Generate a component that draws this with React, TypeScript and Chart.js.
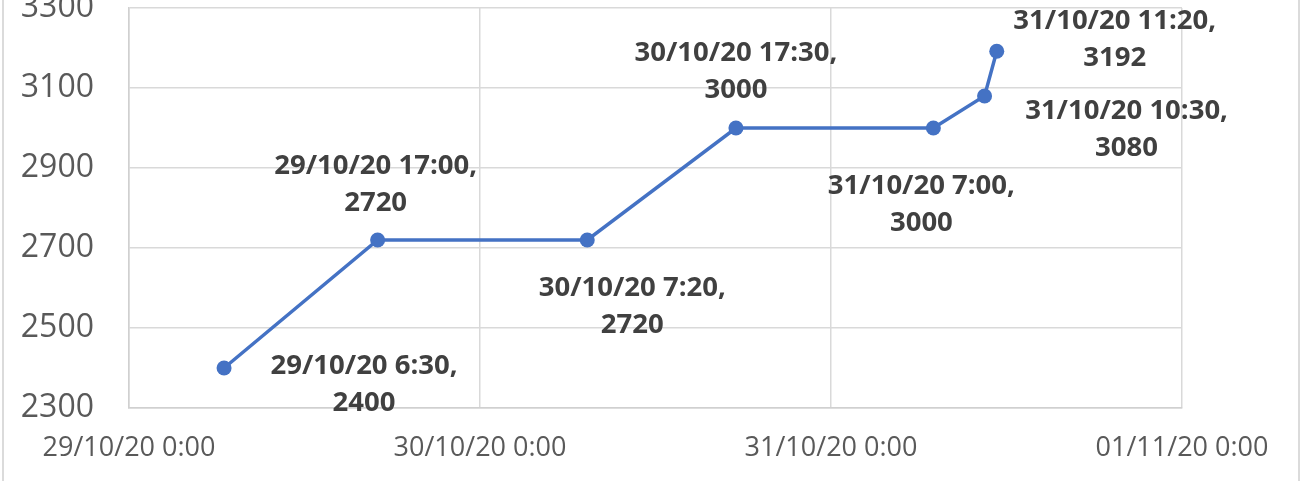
import React, { useEffect, useRef } from "react";
import { Chart, registerables } from "chart.js";

Chart.register(...registerables);

// ---- Data ----
const pointTimes = [
  "29/10/20 6:30",
  "29/10/20 17:00",
  "30/10/20 7:20",
  "30/10/20 17:30",
  "31/10/20 7:00",
  "31/10/20 10:30",
  "31/10/20 11:20",
];
const pointValues = [2400, 2720, 2720, 3000, 3000, 3080, 3192];
const xTickLabels = ["29/10/20 0:00", "30/10/20 0:00", "31/10/20 0:00", "01/11/20 0:00"];
const yMin = 2300;
const yMax = 3300;
const yStep = 200;

// label placement (offset of first text line centre from the point, px)
const labelOffsets: [number, number][] = [
  [140, -2],
  [-2, -74],
  [45, 48],
  [0, -75],
  [-12, 58],
  [142, 15],
  [118, -30],
];

function parseStamp(s: string): number {
  const [d, t] = s.split(" ");
  const [dd, mm, yy] = d.split("/").map(Number);
  const [h, mi] = t.split(":").map(Number);
  return Date.UTC(2000 + yy, mm - 1, dd, h, mi);
}
const origin = parseStamp(xTickLabels[0]);
const toHours = (s: string) => (parseStamp(s) - origin) / 3600000;
const xTickHours = xTickLabels.map(toHours);

const FONT = "'Open Sans', 'Noto Sans', sans-serif";

const labelPlugin = {
  id: "pointLabels",
  afterDatasetsDraw(chart: any) {
    const meta = chart.getDatasetMeta(0);
    const ctx = chart.ctx;
    ctx.save();
    ctx.font = `bold 27.5px ${FONT}`;
    ctx.fillStyle = "#404040";
    ctx.textAlign = "center";
    ctx.textBaseline = "middle";
    meta.data.forEach((el: any, i: number) => {
      const [dx, dy] = labelOffsets[i];
      const x = el.x + dx;
      const y = el.y + dy;
      ctx.fillText(`${pointTimes[i]},`, x, y);
      ctx.fillText(`${pointValues[i]}`, x, y + 37);
    });
    ctx.restore();
  },
};

const framePlugin = {
  id: "outerFrame",
  afterDraw(chart: any) {
    const ctx = chart.ctx;
    ctx.save();
    ctx.strokeStyle = "#d0d0d0";
    ctx.lineWidth = 1.5;
    ctx.beginPath();
    ctx.moveTo(3, 0);
    ctx.lineTo(3, chart.height);
    ctx.moveTo(1299, 0);
    ctx.lineTo(1299, chart.height);
    ctx.stroke();
    ctx.restore();
  },
};

export default function App() {
  const ref = useRef<HTMLCanvasElement | null>(null);
  useEffect(() => {
    document.body.style.margin = "0";
    const canvas = ref.current;
    if (!canvas) return;
    const chart = new Chart(canvas, {
      type: "line",
      data: {
        datasets: [
          {
            data: pointTimes.map((t, i) => ({ x: toHours(t), y: pointValues[i] })),
            borderColor: "#4472c4",
            backgroundColor: "#4472c4",
            borderWidth: 3.5,
            pointRadius: 7.5,
            pointBackgroundColor: "#4472c4",
            pointBorderColor: "#4472c4",
            pointBorderWidth: 0,
            tension: 0,
          },
        ],
      },
      options: {
        responsive: false,
        animation: false,
        events: [],
        layout: { padding: { left: 0, top: 8, right: 120, bottom: 0 } },
        plugins: { legend: { display: false }, tooltip: { enabled: false } },
        scales: {
          x: {
            type: "linear",
            min: xTickHours[0],
            max: xTickHours[xTickHours.length - 1],
            afterBuildTicks: (scale: any) => {
              scale.ticks = xTickHours.map((v) => ({ value: v }));
            },
            afterFit: (scale: any) => {
              scale.height = 73;
              scale.paddingLeft = 0;
              scale.paddingRight = 0;
              scale.paddingTop = 0;
              scale.paddingBottom = 0;
            },
            grid: { color: "#d9d9d9", lineWidth: 1.5, drawTicks: false },
            border: { color: "#d0d0d0", width: 1.5 },
            ticks: {
              padding: 24,
              maxRotation: 0,
              autoSkip: false,
              color: "#595959",
              font: { family: FONT, size: 27 },
              callback: (v: any) => {
                const idx = xTickHours.indexOf(Number(v));
                return idx >= 0 ? xTickLabels[idx] : "";
              },
            },
          },
          y: {
            min: yMin,
            max: yMax,
            afterFit: (scale: any) => {
              scale.width = 129;
              scale.paddingTop = 0;
              scale.paddingBottom = 0;
              scale.paddingLeft = 0;
              scale.paddingRight = 0;
            },
            grid: { color: "#d9d9d9", lineWidth: 1.5, drawTicks: false },
            border: { color: "#d0d0d0", width: 1.5 },
            ticks: {
              stepSize: yStep,
              padding: 35,
              color: "#595959",
              font: { family: FONT, size: 32 },
              callback: (v: any) => String(v),
            },
          },
        },
      },
      plugins: [labelPlugin, framePlugin],
    });
    return () => chart.destroy();
  }, []);
  return (
    <div style={{ position: "absolute", left: 0, top: 0, width: 1302, height: 481, background: "#fff" }}>
      <canvas ref={ref} width={1302} height={481} />
    </div>
  );
}
